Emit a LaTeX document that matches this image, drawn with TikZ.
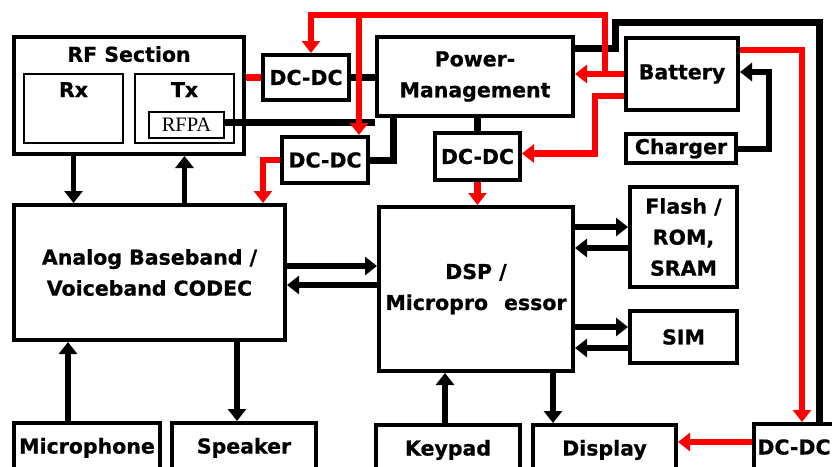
\documentclass[tikz,border=0pt]{standalone}
\usepackage{fontspec}
\usepackage{tikz}
\usetikzlibrary{arrows.meta,positioning,calc}
\newfontfamily\blockfont{DejaVu Sans Bold}[FakeBold=0.7]
\newfontfamily\pafont{Liberation Serif}
\definecolor{pwrred}{RGB}{255,0,0}

\begin{document}
\begin{tikzpicture}[
    x=1pt, y=-1pt,
    box/.style={rectangle, draw=black, line width=4pt, align=center, inner sep=1pt, font=\blockfont\fontsize{20.5}{31}\selectfont},
    subbox/.style={rectangle, draw=black, line width=2pt, inner sep=1pt},
    bottombox/.style={box, anchor=north, minimum height=70pt, text height=16pt, text depth=25pt},
    title/.style={inner sep=0pt, font=\blockfont\fontsize{20.5}{31}\selectfont},
    sig/.style={-{Triangle[width=18pt,length=12pt]}, line width=5.5pt},
    wire/.style={line width=7pt},
    pwr/.style={line width=6.5pt, draw=pwrred},
    pwrarrow/.style={pwr, -{Triangle[width=18pt,length=12pt]}}
]
    \useasboundingbox (0,0) rectangle (832,466);
    \fill[white] (0,0) rectangle (832,466);
    \clip (0,0) rectangle (832,466);

    % RF section
    \node [box, minimum width=230pt, minimum height=117pt] (rf) at (129,95.5) {};
    \node [title, below=11pt of rf.north] (rftitle) {RF Section};
    \node [subbox, minimum width=99pt, minimum height=69pt] (rx) at (73.5,108.5) {};
    \node [subbox, minimum width=99pt, minimum height=69pt] (tx) at (184.5,108.5) {};
    \node [title, below=9pt of rx.north] (rxtitle) {Rx};
    \node [title, below=9pt of tx.north] (txtitle) {Tx};
    \node [subbox, minimum width=75pt, minimum height=26pt, font=\pafont\fontsize{20.5}{24}\selectfont] (rfpa) at (186.5,125) {RFPA};

    % power blocks
    \node [box, minimum width=86pt, minimum height=45pt] (dcA) at (306,77.5) {DC-DC};
    \node [box, minimum width=196pt, minimum height=79pt] (pm) at (475,76.5) {Power-\\Management};
    \node [box, minimum width=86pt, minimum height=46pt] (dcB) at (325,160) {DC-DC};
    \node [box, minimum width=85pt, minimum height=47pt] (dcC) at (477.5,156.5) {DC-DC};
    \node [box, minimum width=112pt, minimum height=72pt] (bat) at (682,74) {Battery};
    \node [box, minimum width=110pt, minimum height=29pt] (chg) at (681,148.5) {Charger};

    % signal blocks
    \node [box, minimum width=271pt, minimum height=135pt] (ana) at (149.5,272.5) {Analog Baseband /\\Voiceband CODEC};
    \node [box, minimum width=194pt, minimum height=164pt] (dsp) at (476,289) {DSP /\\Micropro\hspace{16pt}essor};
    \node [box, minimum width=107pt, minimum height=100pt] (flash) at (683.5,237) {Flash /\\ROM,\\SRAM};
    \node [box, minimum width=107pt, minimum height=52pt] (sim) at (683.5,337) {SIM};

    % bottom row
    \node [bottombox, minimum width=146pt] (mic) at (87,421) {Microphone};
    \node [bottombox, minimum width=144pt] (spk) at (244,421) {Speaker};
    \node [bottombox, minimum width=144pt] (kp) at (448,423) {Keypad};
    \node [bottombox, minimum width=143pt] (disp) at (604.5,423) {Display};
    \node [bottombox, minimum width=80pt] (dcD) at (794,422) {DC-DC};

    % black supply lines
    \coordinate (paout) at ([yshift=3pt]rfpa.east);
    \coordinate (pmtap) at ([xshift=-82pt]pm.south);
    \coordinate (loopA) at (615,22);
    \coordinate (loopB) at (819,22);
    \draw [wire] (dcA.east) -- (dcA.east -| pm.west);
    \draw [wire] (paout) -- (paout -| pm.south west);
    \draw [wire] (pmtap) |- (dcB.east);
    \draw [wire] (pm.south -| dcC.north) -- (dcC.north);
    \draw [wire] ([yshift=28pt]pm.east) -| (loopA) -- (loopB) -- (loopB |- dcD.north);
    \draw [sig, line width=6pt] (chg.east) -- ++(31,0) |- ([yshift=2pt]bat.east);

    % red supply lines
    \coordinate (topR) at (605,15);
    \coordinate (topM) at (359,15);
    \coordinate (topL) at (311,15);
    \coordinate (batB) at ([yshift=-22pt]bat.west);
    \coordinate (batC) at ([yshift=24pt]bat.east);
    \coordinate (dcDin) at ([yshift=-20pt]dcD.north west);
    \draw [pwr] (dcA.west) -- (dcA.west -| rf.east);
    \draw [pwrarrow] (bat.west) -- (bat.west -| pm.east);
    \draw [pwrarrow] (bat.west -| topR) -- (topR) -- (topL) -- (topL |- dcA.north);
    \draw [pwrarrow] (topM) -- (topM |- dcB.north);
    \draw [pwrarrow] (batB) -- ++(-29,0) |- ([yshift=3pt]dcC.east);
    \draw [pwrarrow] (batC) -| ([xshift=8pt]dcD.north);
    \draw [pwrarrow] (dcB.west) -| ([xshift=113.5pt]ana.north);
    \draw [pwrarrow] (dcC.south) -- (dcC.south |- dsp.north);
    \draw [pwrarrow] (dcDin) -- (dcDin -| disp.east);

    % signal paths
    \coordinate (anaA) at ([yshift=6.5pt]ana.east);
    \coordinate (anaB) at ([yshift=-12.5pt]ana.east);
    \coordinate (flA) at ([yshift=10pt]flash.west);
    \coordinate (flB) at ([yshift=-11pt]flash.west);
    \coordinate (simA) at ([yshift=10pt]sim.west);
    \coordinate (simB) at ([yshift=-11pt]sim.west);
    \coordinate (dspout) at ([xshift=-51.5pt]disp.north);
    \coordinate (kpin) at ([xshift=-3pt]kp.north);
    \coordinate (micin) at ([xshift=-19pt]mic.north);
    \coordinate (spkout) at ([xshift=-7pt]spk.north);
    \draw [sig] (rf.south -| rx) -- (ana.north -| rx);
    \draw [sig] (ana.north -| tx) -- (rf.south -| tx);
    \draw [sig] (anaA) -- (anaA -| dsp.west);
    \draw [sig] (anaB -| dsp.west) -- (anaB);
    \draw [sig] (flA -| dsp.east) -- (flA);
    \draw [sig] (flB) -- (flB -| dsp.east);
    \draw [sig] (simA -| dsp.east) -- (simA);
    \draw [sig] (simB) -- (simB -| dsp.east);
    \draw [sig] (dspout |- dsp.south) -- (dspout);
    \draw [sig] (kpin) -- (kpin |- dsp.south);
    \draw [sig] (micin) -- (micin |- ana.south);
    \draw [sig] (spkout |- ana.south) -- (spkout);
\end{tikzpicture}
\end{document}
